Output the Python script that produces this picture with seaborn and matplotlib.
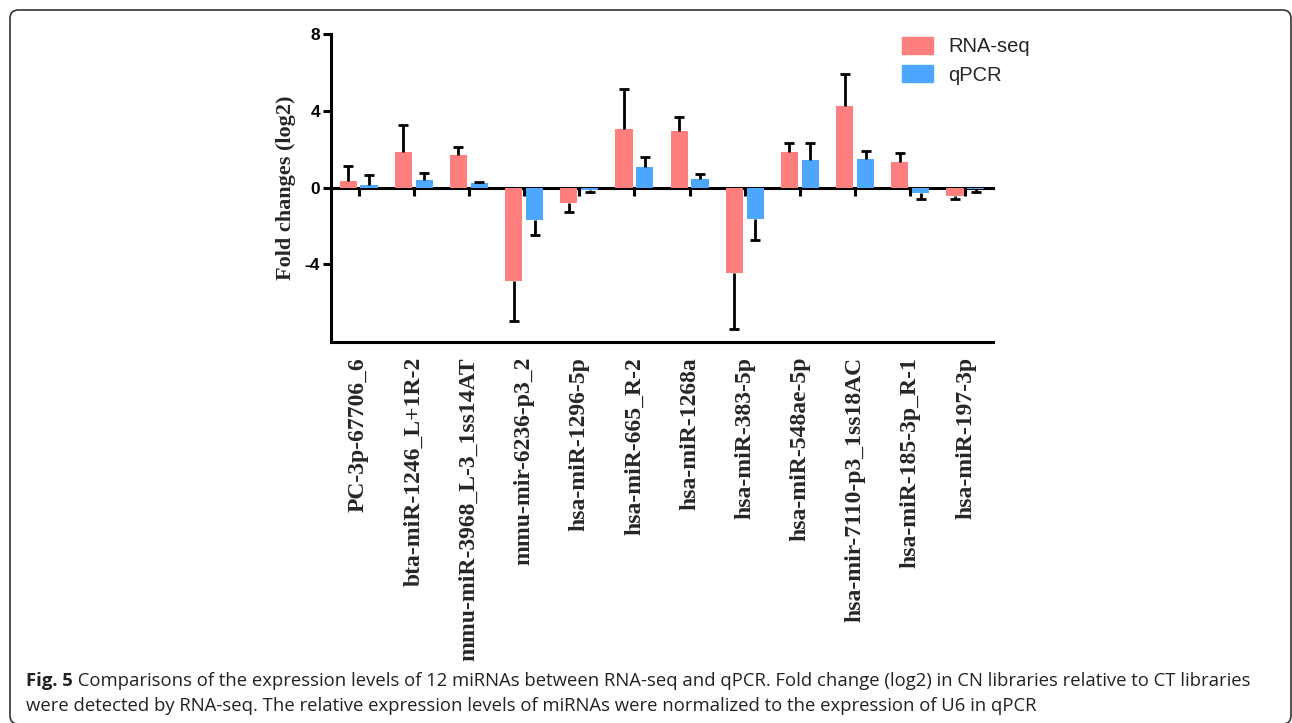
import numpy as np
import pandas as pd
import matplotlib
matplotlib.use("Agg")
import matplotlib.pyplot as plt
from matplotlib.patches import FancyBboxPatch
import seaborn as sns

# miRNAs compared between the two methods
mirnas = [
    "PC-3p-67706_6", "bta-miR-1246_L+1R-2", "mmu-miR-3968_L-3_1ss14AT",
    "mmu-mir-6236-p3_2", "hsa-miR-1296-5p", "hsa-miR-665_R-2",
    "hsa-miR-1268a", "hsa-miR-383-5p", "hsa-miR-548ae-5p",
    "hsa-mir-7110-p3_1ss18AC", "hsa-miR-185-3p_R-1", "hsa-miR-197-3p",
]
methods = ["RNA-seq", "qPCR"]

# log2 fold changes and their error magnitudes
rnaseq_fc = [0.36, 1.84, 1.70, -4.87, -0.80, 3.08, 2.94, -4.47, 1.86, 4.24, 1.35, -0.42]
rnaseq_err = [0.77, 1.43, 0.42, 2.09, 0.47, 2.05, 0.73, 2.92, 0.49, 1.69, 0.47, 0.19]
qpcr_fc = [0.12, 0.40, 0.24, -1.69, -0.14, 1.08, 0.47, -1.62, 1.44, 1.48, -0.26, -0.05]
qpcr_err = [0.54, 0.36, 0.07, 0.78, 0.10, 0.54, 0.24, 1.11, 0.87, 0.45, 0.35, 0.18]

yticks = [-4, 0, 4, 8]
ylabel = "Fold changes (log2)"
caption_bold = "Fig. 5"
caption_line1 = (" Comparisons of the expression levels of 12 miRNAs between RNA-seq and qPCR. "
                 "Fold change (log2) in CN libraries relative to CT libraries")
caption_line2 = ("were detected by RNA-seq. The relative expression levels of miRNAs were "
                 "normalized to the expression of U6 in qPCR")

colors = {"RNA-seq": "#FF7F7F", "qPCR": "#4DA6FF"}

sns.set_style("ticks")
plt.rcParams["font.family"] = ["Liberation Sans", "DejaVu Sans"]

df = pd.DataFrame({
    "miRNA": mirnas * 2,
    "method": [methods[0]] * len(mirnas) + [methods[1]] * len(mirnas),
    "fc": rnaseq_fc + qpcr_fc,
})

W, H = 1292, 723
fig = plt.figure(figsize=(W / 100, H / 100), dpi=100)
ax = fig.add_axes([331 / W, 1 - 341.7 / H, 662 / W, (341.7 - 34.3) / H])

sns.barplot(data=df, x="miRNA", y="fc", hue="method", hue_order=methods,
            order=mirnas, palette=colors, width=0.76, gap=0.18,
            linewidth=0, saturation=1, errorbar=None, ax=ax, zorder=2)

# one-sided error bars pointing away from zero
for container, vals, errs in zip(ax.containers, [rnaseq_fc, qpcr_fc], [rnaseq_err, qpcr_err]):
    xs = np.array([p.get_x() + p.get_width() / 2 for p in container])
    vals = np.asarray(vals)
    errs = np.asarray(errs)
    tips = vals + np.sign(vals) * errs
    ax.vlines(xs, vals, tips, colors="black", linewidth=2.0, zorder=3)
    ax.plot(xs, tips, linestyle="none", marker="_", markersize=7.5,
            markeredgewidth=2.0, color="black", zorder=3)

ax.set_xlim(-0.5, len(mirnas) - 0.5)
ax.set_ylim(-8.04, 8)
ax.set_yticks(yticks)
ax.set_yticklabels([str(t) for t in yticks], fontsize=12.5, fontweight="bold",
                   family="Liberation Sans")
ax.set_xlabel("")
ax.set_ylabel(ylabel, fontsize=16, fontweight="bold", family="Liberation Serif",
              labelpad=6)
ax.set_xticks(range(len(mirnas)))
ax.set_xticklabels(mirnas, rotation=90, fontsize=17, fontweight="bold",
                   family="Liberation Serif", va="top", ha="center")
ax.tick_params(axis="x", length=0, pad=11)
ax.tick_params(axis="y", direction="out", length=6, width=2.2, pad=2, colors="black")
for side in ["top", "right"]:
    ax.spines[side].set_visible(False)
for side in ["left", "bottom"]:
    ax.spines[side].set_linewidth(2.2)
    ax.spines[side].set_color("black")

# zero baseline carrying the category ticks
zero_axis = ax.secondary_xaxis(0, transform=ax.transData)
zero_axis.set_xticks(range(len(mirnas)))
zero_axis.set_xticklabels([""] * len(mirnas))
zero_axis.tick_params(axis="x", direction="out", length=6, width=2.2, color="black")
for sp in zero_axis.spines.values():
    sp.set_linewidth(2.2)
    sp.set_color("black")

ax.get_legend().remove()
handles = [plt.Rectangle((0, 0), 1, 1, color=colors[m]) for m in methods]
fig.legend(handles, methods, loc="upper left",
           bbox_to_anchor=(902 / W, 1 - 37 / H), bbox_transform=fig.transFigure,
           frameon=False, fontsize=14.5, handlelength=1.55, handleheight=0.9,
           handletextpad=0.75, labelspacing=0.45, borderpad=0, borderaxespad=0)

# rounded frame around figure and caption
frame = FancyBboxPatch((10 / W, -1 / H), 1281 / W, 714 / H,
                       boxstyle="round,pad=0,rounding_size=0.0065",
                       transform=fig.transFigure, fill=False,
                       edgecolor="#333333", linewidth=1.2, mutation_aspect=W / H)
frame.set_clip_on(False)
fig.patches.append(frame)

# caption
cap_font = dict(family=["Open Sans", "DejaVu Sans"], fontsize=13.3, color="#222222")
x0 = 26 / W
y1 = 1 - 686.5 / H
y2 = 1 - 711 / H
t_bold = fig.text(x0, y1, caption_bold, fontweight="bold", va="baseline", **cap_font)
fig.canvas.draw()
bb = t_bold.get_window_extent()
fig.text(bb.x1 / fig.bbox.width, y1, caption_line1, va="baseline", **cap_font)
fig.text(x0, y2, caption_line2, va="baseline", **cap_font)

fig.savefig("out.png", dpi=100)
